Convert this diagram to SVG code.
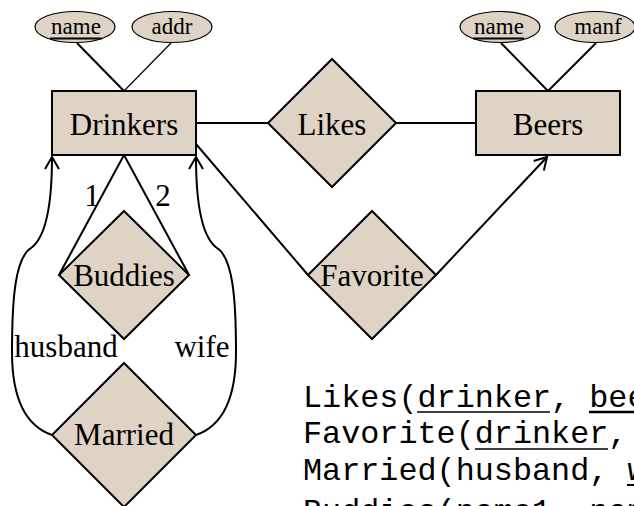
<svg xmlns="http://www.w3.org/2000/svg" width="634" height="506" viewBox="0 0 634 506">
  <style>
    .ent { fill: #DED3C4; stroke: #000; stroke-width: 2; }
    .attr { fill: #DED3C4; stroke: #000; stroke-width: 1.2; }
    .lbl { font-family: "Liberation Serif", "Times New Roman", serif; font-size: 31px; fill: #000; text-anchor: middle; }
    .albl { font-family: "Liberation Serif", "Times New Roman", serif; font-size: 23px; fill: #000; text-anchor: middle; }
    .edge { fill: none; stroke: #000; stroke-width: 2; }
    .thin { fill: none; stroke: #000; stroke-width: 1.2; }
    .ul { stroke: #000; stroke-width: 2; }
    .code { font-family: "Liberation Mono", "Courier New", monospace; font-size: 31.8px; fill: #000; }
  </style>
  <defs>
    <marker id="open" markerUnits="userSpaceOnUse" markerWidth="20" markerHeight="20" refX="0" refY="0" orient="auto" overflow="visible">
      <path d="M-12,-7 L0,0 L-12,7" fill="none" stroke="#000" stroke-width="2"/>
    </marker>
  </defs>

  <!-- connectors -->
  <g id="connectors">
    <line class="edge" x1="77" y1="43" x2="124" y2="91"/>
    <line class="thin" x1="171" y1="43" x2="124" y2="91"/>
    <line class="edge" x1="501" y1="43" x2="548" y2="91"/>
    <line class="edge" x1="596" y1="43" x2="548" y2="91"/>
    <line class="edge" x1="196" y1="123" x2="268" y2="123"/>
    <line class="edge" x1="396" y1="123" x2="476" y2="123"/>
    <line class="edge" x1="124" y1="155" x2="59" y2="275"/>
    <line class="edge" x1="124" y1="155" x2="189" y2="275"/>
    <line class="edge" x1="196" y1="144" x2="308" y2="275"/>
    <line class="edge" x1="436" y1="275" x2="547" y2="157" marker-end="url(#open)"/>
    <path class="edge" d="M52,435 C26,426 12,398 12,352 C12,300 15,258 31,248 C45,238 52,205 52,157" marker-end="url(#open)"/>
    <path class="edge" d="M196,435 C222,426 236,398 236,352 C236,300 233,258 217,248 C203,238 196,205 196,157" marker-end="url(#open)"/>
    <text class="lbl" x="92" y="206">1</text>
    <text class="lbl" x="163" y="206">2</text>
    <text class="lbl" x="66" y="357">husband</text>
    <text class="lbl" x="202" y="357">wife</text>
  </g>

  <!-- entities -->
  <g id="drinkers">
    <rect class="ent" x="52" y="91" width="144" height="64"/>
    <text class="lbl" x="124" y="135">Drinkers</text>
  </g>
  <g id="beers">
    <rect class="ent" x="476" y="91" width="144" height="64"/>
    <text class="lbl" x="548" y="135">Beers</text>
  </g>

  <!-- attributes -->
  <g id="drinkers-name">
    <ellipse class="attr" cx="75" cy="27" rx="40" ry="15.5"/>
    <text class="albl" x="76" y="34">name</text>
    <line class="ul" x1="50" y1="38.5" x2="102" y2="38.5"/>
  </g>
  <g id="drinkers-addr">
    <ellipse class="attr" cx="172" cy="27" rx="40" ry="15.5"/>
    <text class="albl" x="172" y="34">addr</text>
  </g>
  <g id="beers-name">
    <ellipse class="attr" cx="500" cy="27" rx="40" ry="15.5"/>
    <text class="albl" x="499" y="34">name</text>
    <line class="ul" x1="473" y1="38.5" x2="524" y2="38.5"/>
  </g>
  <g id="beers-manf">
    <ellipse class="attr" cx="595" cy="27" rx="40" ry="15.5"/>
    <text class="albl" x="598" y="34">manf</text>
  </g>

  <!-- relationships -->
  <g id="likes">
    <polygon class="ent" points="332,59 396,123 332,187 268,123"/>
    <text class="lbl" x="332" y="135">Likes</text>
  </g>
  <g id="buddies">
    <polygon class="ent" points="124,211 189,275 124,339 59,275"/>
    <text class="lbl" x="124" y="286">Buddies</text>
  </g>
  <g id="favorite">
    <polygon class="ent" points="372,211 436,275 372,339 308,275"/>
    <text class="lbl" x="372" y="286">Favorite</text>
  </g>
  <g id="married">
    <polygon class="ent" points="124,363 196,435 124,507 52,435"/>
    <text class="lbl" x="124" y="445">Married</text>
  </g>

  <!-- relational schemas -->
  <g id="schemas">
    <text class="code" x="303" y="407">Likes(drinker, beer)</text>
    <line stroke="#000" stroke-width="1.5" x1="417" y1="412" x2="550" y2="412"/>
    <line stroke="#000" stroke-width="2.5" x1="589" y1="412" x2="665" y2="412"/>
    <text class="code" x="303" y="443">Favorite(drinker, beer)</text>
    <line stroke="#000" stroke-width="1.5" x1="475" y1="449" x2="608" y2="449"/>
    <text class="code" x="303" y="480">Married(husband, wife)</text>
    <line stroke="#000" stroke-width="2" x1="627" y1="485" x2="703" y2="485"/>
    <text class="code" x="303" y="521">Buddies(name1, name2)</text>
  </g>
</svg>
